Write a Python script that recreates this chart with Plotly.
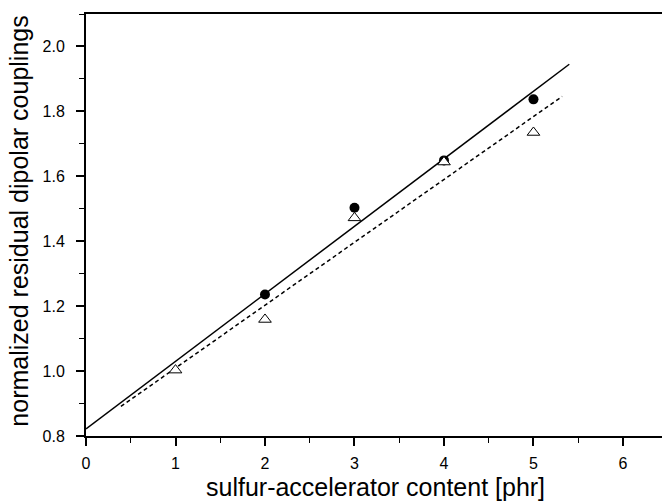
import plotly.graph_objects as go
import numpy as np

# data
x_circ = [2, 3, 4, 5]
y_circ = [1.236, 1.503, 1.649, 1.837]
x_tri = [1, 2, 3, 4, 5]
y_tri = [1.003, 1.159, 1.472, 1.644, 1.735]

# linear fits: intercept, slope, x-span
fit_solid = [0.822, 0.208]
span_solid = [0.0, 5.4]
fit_dashed = [0.8155, 0.1937]
span_dashed = [0.39, 5.32]

x_ticks = [0, 1, 2, 3, 4, 5, 6]
y_ticks = [0.8, 1.0, 1.2, 1.4, 1.6, 1.8, 2.0]

xs = np.array(span_solid)
xd = np.array(span_dashed)

fig = go.Figure()
fig.add_trace(go.Scatter(x=xs, y=fit_solid[0] + fit_solid[1] * xs, mode="lines",
                         line=dict(color="black", width=1.5), showlegend=False))
fig.add_trace(go.Scatter(x=xd, y=fit_dashed[0] + fit_dashed[1] * xd, mode="lines",
                         line=dict(color="black", width=1.5, dash="4px,3px"), showlegend=False))
fig.add_trace(go.Scatter(x=x_circ, y=y_circ, mode="markers",
                         marker=dict(symbol="circle", size=10, color="black"), showlegend=False))
fig.add_trace(go.Scatter(x=x_tri, y=y_tri, mode="markers",
                         marker=dict(symbol="triangle-up", size=11, color="white",
                                     line=dict(color="black", width=1)), showlegend=False))

font = "Liberation Sans, Arial, sans-serif"
fig.update_layout(
    width=662, height=502,
    margin=dict(l=86, r=0, t=14, b=66),
    plot_bgcolor="white", paper_bgcolor="white",
    font=dict(family=font, size=16, color="black"),
    xaxis=dict(range=[0, 6.436], showgrid=False, zeroline=False,
               showline=True, linecolor="black", linewidth=2, mirror=True,
               ticks="outside", ticklen=8, tickwidth=1.5, tickcolor="black",
               tickvals=x_ticks, ticklabelstandoff=4,
               minor=dict(ticks="outside", ticklen=5, tickwidth=1.2, tickcolor="black", dtick=0.5),
               tickfont=dict(size=16)),
    yaxis=dict(range=[0.8, 2.1], showgrid=False, zeroline=False,
               showline=True, linecolor="black", linewidth=2,
               ticks="outside", ticklen=8, tickwidth=1.5, tickcolor="black",
               tickvals=y_ticks, tickformat=".1f", ticklabelstandoff=8,
               minor=dict(ticks="outside", ticklen=5, tickwidth=1.2, tickcolor="black", dtick=0.1),
               tickfont=dict(size=16)),
    annotations=[
        dict(text="sulfur-accelerator content [phr]", xref="paper", yref="paper",
             x=0.502, y=-0.1197, yanchor="middle", xanchor="center", showarrow=False,
             font=dict(size=25, family=font)),
        dict(text="normalized residual dipolar couplings", xref="paper", yref="paper",
             x=-0.1163, y=0.508, xanchor="center", yanchor="middle", showarrow=False,
             textangle=-90, font=dict(size=25, family=font)),
    ],
)
fig.write_html("out.html", config={"displayModeBar": False},
               post_script="document.body.style.margin='0';document.body.style.overflow='hidden';")
